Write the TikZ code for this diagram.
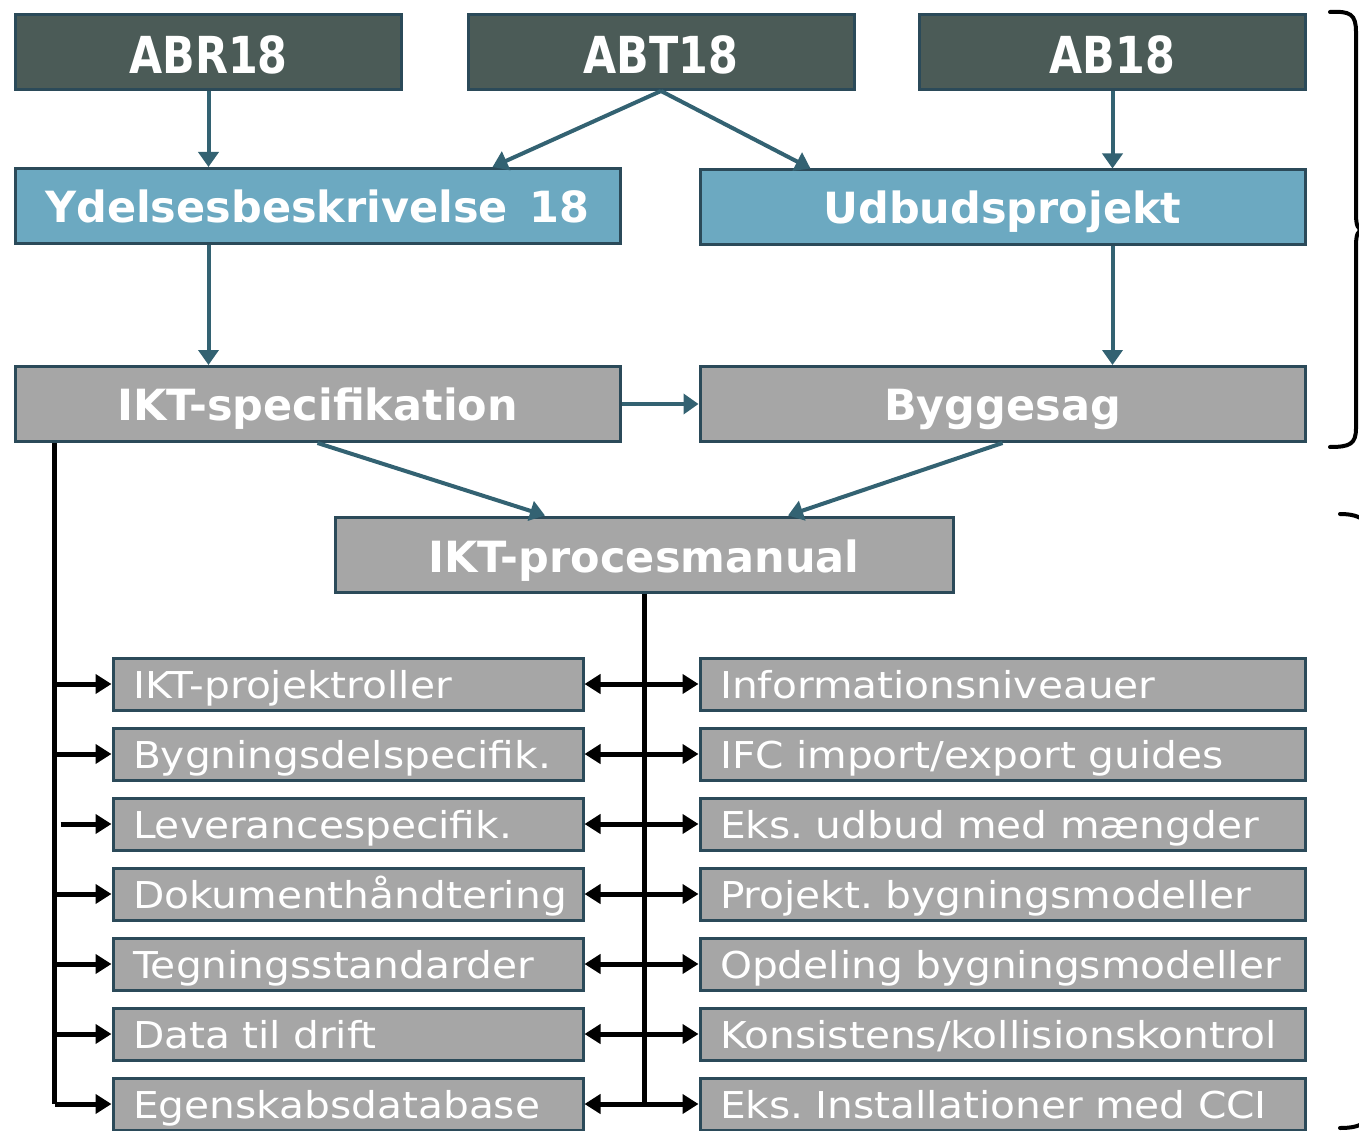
\documentclass[tikz,border=0pt]{standalone}
\usepackage{fontspec}
\setmainfont{DejaVu Sans}
\newfontfamily\widefont[FakeStretch=1.1]{DejaVu Sans}
\newfontfamily\narrowfont[FakeStretch=0.84]{DejaVu Sans}
\usetikzlibrary{arrows.meta,calc}
\frenchspacing

\definecolor{boxdark}{HTML}{4B5B57}
\definecolor{boxblue}{HTML}{6CA9C1}
\definecolor{boxgray}{HTML}{A6A6A6}
\definecolor{boxline}{HTML}{2B4A59}
\definecolor{arrowteal}{HTML}{336272}

\tikzset{
  tbox/.style={draw=boxline, line width=3pt, text=white, inner sep=0pt,
    font=\fontsize{43}{48}\selectfont\bfseries, minimum height=75pt,
    text height=33pt, text depth=0pt},
  darkbox/.style={tbox, fill=boxdark, minimum width=386pt,
    font=\narrowfont\fontsize{51}{56}\selectfont\bfseries, text height=44pt},
  bluebox/.style={tbox, fill=boxblue, minimum width=605pt},
  graybox/.style={tbox, fill=boxgray, minimum width=605pt},
  item/.style={draw=boxline, line width=3pt, fill=boxgray, text=white,
    font=\widefont\fontsize{37}{44}\selectfont, minimum height=52pt, inner xsep=20pt,
    inner ysep=0pt, align=left, text height=28pt, text depth=0pt},
  leftitem/.style={item, text width=430pt},
  rightitem/.style={item, text width=565pt},
  tealarrow/.style={draw=arrowteal, line width=4pt, -{Triangle[length=15pt,width=20pt]}},
  blackarrow/.style={line width=5pt, -{Triangle[length=16pt,width=19pt]}},
  biarrow/.style={line width=5pt, {Triangle[length=16pt,width=19pt]}-{Triangle[length=16pt,width=19pt]}},
  bracket/.style={line width=4pt, line cap=round}
}

\begin{document}
\begin{tikzpicture}[x=1pt,y=-1pt]
\useasboundingbox (0,0) rectangle (1359,1131);

% standards
\node[darkbox] (abr) at (208.5,52) {ABR18};
\node[darkbox] (abt) at (661,52) {ABT18};
\node[darkbox] (ab) at (1112.5,52) {AB18};

\node[bluebox] (yd) at (317.5,206) {Ydelsesbeskrivelse\hspace{22pt}18};
\node[bluebox] (ud) at (1002.5,207.5) {Udbudsprojekt};

\node[graybox] (ikt) at (317.5,404) {IKT-specifikation};
\node[graybox] (bg) at (1002.5,404) {Byggesag};

\node[graybox, minimum width=618pt, text height=35pt] (pm) at (644,554.5) {IKT-procesmanual};

\draw[tealarrow] (abr.south) -- (yd.north -| abr.south);
\draw[tealarrow] (abt.south) -- ($(yd.north)+(175,0)$);
\draw[tealarrow] (abt.south) -- ($(ud.north)+(-192,0)$);
\draw[tealarrow] (ab.south) -- (ud.north -| ab.south);
\draw[tealarrow] (yd.south -| abr.south) -- (ikt.north -| abr.south);
\draw[tealarrow] (ud.south -| ab.south) -- (bg.north -| ab.south);
\draw[tealarrow] (ikt.east) -- (bg.west);
\draw[tealarrow] (ikt.south) -- ($(pm.north)+(-99,0)$);
\draw[tealarrow] (bg.south) -- ($(pm.north)+(144,0)$);

% lists
\foreach \i/\lt/\rt in {1/IKT-projektroller/Informationsniveauer,
    2/Bygningsdelspecifik./{IFC import/export guides},
    3/Leverancespecifik./Eks. udbud med mængder,
    4/Dokumenthåndtering/Projekt. bygningsmodeller,
    5/Tegningsstandarder/Opdeling bygningsmodeller,
    6/Data til drift/{Konsistens/kollisionskontrol},
    7/Egenskabsdatabase/Eks. Installationer med CCI}
{
  \node[leftitem] (l\i) at (348,614+70*\i) {\lt};
  \node[rightitem] (r\i) at (1002.5,614+70*\i) {\rt};
}

\coordinate (spine) at ($(ikt.south west)+(41,0)$);
\draw[line width=5pt] (spine) -- (spine |- l7.west);
\draw[line width=5pt] (pm.south) -- (pm.south |- l7.east);
\foreach \i in {1,2,4,5,6,7}
  \draw[blackarrow] (spine |- l\i.west) -- (l\i.west);
\draw[blackarrow] ($(spine |- l3.west)+(6,0)$) -- (l3.west);
\foreach \i in {1,...,7}
  \draw[biarrow] (l\i.east) -- (r\i.west);

% brackets
\draw[bracket] (1330,12) .. controls (1350,11) and (1356,14) .. (1356,32)
  -- (1356,214) .. controls (1356,226) and (1358,229) .. (1362,230)
  .. controls (1358,231) and (1356,234) .. (1356,246)
  -- (1356,428) .. controls (1356,444) and (1350,447) .. (1330,447);
\draw[bracket] (1340,514) .. controls (1362,514) and (1372,522) .. (1372,545)
  -- (1372,1100) .. controls (1372,1122) and (1362,1128) .. (1340,1128);
\end{tikzpicture}
\end{document}
